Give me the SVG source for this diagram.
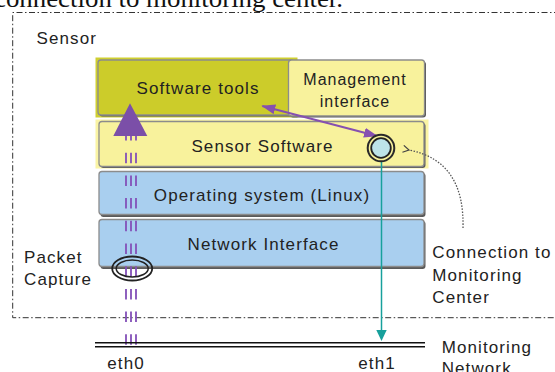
<svg xmlns="http://www.w3.org/2000/svg" width="555" height="372" viewBox="0 0 555 372">
<style>
.t{font-family:"Liberation Sans",Arial,sans-serif;font-size:17px;fill:#222;letter-spacing:1.1px}
.m{text-anchor:middle}
.sh{fill:#5a5a5a}
.box{stroke:#8c8c8c;stroke-width:1.3}
.yel{fill:#F8F29C}
.blu{fill:#A9CFEF}
.cap{stroke:#8350B8;stroke-width:1.8;stroke-dasharray:10.5 12.2;fill:none}
</style>
<defs>
<marker id="pa" viewBox="0 0 14 10" refX="13" refY="5" markerWidth="14" markerHeight="10" markerUnits="userSpaceOnUse" orient="auto-start-reverse">
<path d="M0,0 L14,5 L0,10 Z" fill="#8650B0"/>
</marker>
<marker id="dv" viewBox="0 0 8 8" refX="1" refY="4" markerWidth="8" markerHeight="8" markerUnits="userSpaceOnUse" orient="auto">
<path d="M7,0.5 L1,4 L7,7.5" fill="none" stroke="#444" stroke-width="1.2"/>
</marker>
</defs>
<rect width="555" height="372" fill="#fff"/>
<text x="-6" y="7" font-family="Liberation Serif,Times New Roman,serif" font-size="25" fill="#111" textLength="349" lengthAdjust="spacingAndGlyphs">connection to monitoring center.</text>

<g id="sensor">
<path d="M560,12.5 H12.7 V317.7 H560" fill="none" stroke="#333" stroke-width="1" stroke-dasharray="6 2.5 1.5 2.5"/>
<text class="t" x="36.5" y="44">Sensor</text>
</g>

<g id="software-tools">
<rect x="95.5" y="57.5" width="202" height="60" fill="#CFCF30"/>
<rect class="sh" x="99.5" y="61.5" width="196" height="55" rx="3"/>
<rect class="box" x="98" y="60" width="196" height="55" rx="3" fill="#CCCC2A"/>
<text class="t m" x="198" y="94">Software tools</text>
</g>

<g id="management-interface">
<rect class="sh" x="290" y="61.5" width="136" height="56" rx="3"/>
<rect class="box yel" x="288.5" y="60" width="136" height="56" rx="3"/>
<text class="t m" x="355" y="85" style="font-size:16px;letter-spacing:1px">Management</text>
<text class="t m" x="355" y="106.5" style="font-size:16px;letter-spacing:1px">interface</text>
</g>

<g id="sensor-software">
<rect x="95.5" y="119.5" width="333" height="49" fill="#FAF4A4"/>
<rect class="sh" x="100.5" y="123" width="325" height="45" rx="3"/>
<rect class="box yel" x="99" y="121.5" width="325" height="45" rx="3"/>
<text class="t m" x="262.5" y="151.5">Sensor Software</text>
</g>

<g id="operating-system">
<rect class="sh" x="100.5" y="173" width="325" height="44" rx="3"/>
<rect class="box blu" x="99" y="171.5" width="325" height="43" rx="3"/>
<text class="t m" x="262" y="201">Operating system (Linux)</text>
</g>

<g id="network-interface">
<rect class="sh" x="100.5" y="221" width="325" height="48" rx="3"/>
<rect class="box blu" x="99" y="219.5" width="325" height="47" rx="3"/>
<text class="t m" x="263.5" y="250">Network Interface</text>
</g>

<g id="connectors">
<path class="cap" d="M126,344.8 V136 M131,344.8 V136 M136,344.8 V136"/>
<polygon points="130,103.3 113.3,136 147.3,136" fill="#7B4FA8"/>
<line x1="262.3" y1="106" x2="377" y2="136" stroke="#8650B0" stroke-width="2" marker-start="url(#pa)" marker-end="url(#pa)"/>
<line x1="381.5" y1="160" x2="381.5" y2="331" stroke="#17A09C" stroke-width="1.5"/>
<polygon points="381.5,341 376.3,330 386.7,330" fill="#17A09C"/>
<path d="M463,228 C464,186 449,158 409,150" fill="none" stroke="#555" stroke-width="1.3" stroke-dasharray="1.5 1.5" marker-end="url(#dv)"/>
</g>

<g id="connection-point">
<circle cx="381" cy="148" r="13.3" fill="#F8F29C" stroke="#2a2a2a" stroke-width="2"/>
<circle cx="381" cy="148" r="9.8" fill="#BDE3E8" stroke="#222" stroke-width="1.8"/>
</g>

<g id="packet-capture">
<ellipse cx="132.2" cy="268.5" rx="20" ry="12" fill="none" stroke="#222" stroke-width="1.8"/>
<ellipse cx="132.2" cy="268.5" rx="16" ry="8.5" fill="none" stroke="#222" stroke-width="1.5"/>
<text class="t" x="24" y="262.7">Packet</text>
<text class="t" x="24" y="285">Capture</text>
</g>

<g id="connection-label">
<text class="t" x="432.3" y="258.3">Connection to</text>
<text class="t" x="432.3" y="281">Monitoring</text>
<text class="t" x="432.3" y="303.3">Center</text>
</g>

<g id="monitoring-network">
<line x1="95" y1="342.7" x2="425" y2="342.7" stroke="#111" stroke-width="1.6"/>
<line x1="95" y1="346.7" x2="425" y2="346.7" stroke="#111" stroke-width="1.6"/>
<text class="t" x="107.3" y="369">eth0</text>
<text class="t" x="358.3" y="369">eth1</text>
<text class="t" x="441.7" y="352.7">Monitoring</text>
<text class="t" x="441.7" y="374.3">Network</text>
</g>
</svg>
